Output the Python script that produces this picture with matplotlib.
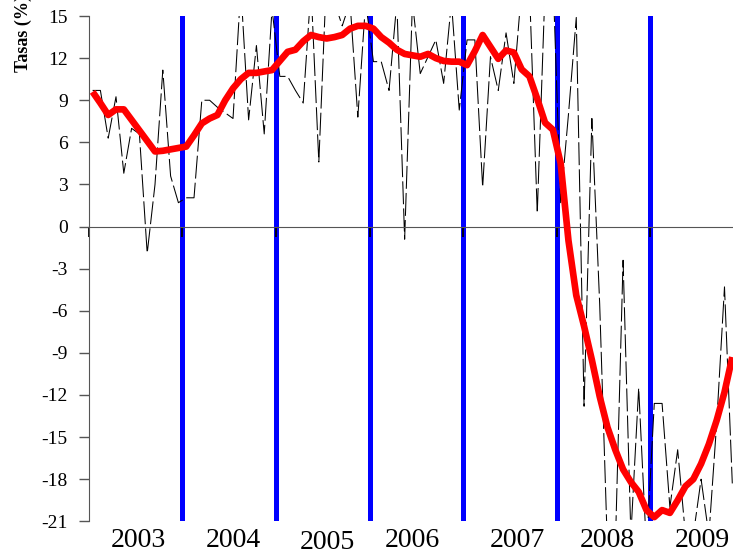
import numpy as np
import matplotlib
matplotlib.use("Agg")
import matplotlib.pyplot as plt
import matplotlib.transforms as mtransforms

plt.rcParams["font.family"] = ["Liberation Serif", "DejaVu Serif"]
plt.rcParams["axes.unicode_minus"] = False

# ==========================================================
# Data (monthly, starting January 2003)
# ==========================================================

anios = ["2003", "2004", "2005", "2006", "2007", "2008", "2009"]

# monthly year-on-year rate
tasa = [
    9.7, 9.7, 6.3, 9.25, 3.8, 7.0, 6.6, -1.9, 3.0, 11.15, 3.6, 1.7,
    2.05, 2.05, 9.0, 9.0, 8.5, 8.1, 7.7, 17.0, 7.6, 12.9, 6.6, 15.5,
    10.7, 10.7, 9.7, 8.8, 17.0, 4.6, 18.0, 16.0, 14.3, 16.0, 7.8, 16.0,
    11.75, 11.75, 9.7, 16.0, -0.9, 16.0, 10.9, 12.1, 13.3, 10.2, 16.0, 8.3,
    13.3, 13.3, 2.8, 12.1, 9.7, 13.8, 10.2, 17.0, 17.0, 0.95, 17.0, 18.0,
    1.7, 8.0, 14.9, -12.8, 7.7, -5.5, -23.0, -23.0, -2.4, -22.0, -11.5, -23.0,
    -12.6, -12.6, -20.0, -15.9, -22.0, -22.0, -18.0, -22.0, -14.0, -4.3, -18.3,
]

# smoothed trend
tendencia = [
    9.6, 8.8, 7.95, 8.35, 8.35, 7.6, 6.85, 6.1, 5.35, 5.4, 5.5, 5.6,
    5.7, 6.5, 7.35, 7.7, 7.95, 9.0, 9.85, 10.5, 10.95, 10.95, 11.05, 11.15,
    11.8, 12.45, 12.6, 13.2, 13.65, 13.5, 13.4, 13.5, 13.65, 14.1, 14.3, 14.3,
    14.1, 13.5, 13.1, 12.6, 12.3, 12.2, 12.1, 12.3, 12.0, 11.8, 11.75, 11.75,
    11.5, 12.5, 13.65, 12.8, 11.95, 12.55, 12.4, 11.2, 10.7, 9.1, 7.4, 6.9,
    4.5, -1.0, -4.9, -7.1, -9.5, -12.1, -14.3, -15.9, -17.3, -18.2, -18.9, -20.2,
    -20.7, -20.2, -20.4, -19.5, -18.5, -18.0, -16.9, -15.5, -13.8, -11.8, -9.3,
]

meses = np.arange(len(tasa))
t = 2003 + (meses + 0.5) / 12

# year boundaries marked in blue
cortes = [2004, 2005, 2006, 2007, 2008, 2009]

# ==========================================================
# Figure
# ==========================================================

fig = plt.figure(figsize=(7.33, 5.53), dpi=100)

ax = fig.add_axes([0.121, 0.0573, 1.015 - 0.121, 0.9137])

for c in cortes:
    ax.axvline(c, color="#0000ff", linewidth=3.6, zorder=1)

ax.plot(
    t,
    tasa,
    color="black",
    linewidth=0.75,
    linestyle=(0, (22, 4)),
    zorder=2,
)

ax.plot(
    t,
    tendencia,
    color="#ff0000",
    linewidth=4.8,
    solid_joinstyle="round",
    solid_capstyle="butt",
    zorder=3,
)

ax.set_xlim(2003, 2010)
ax.set_ylim(-21, 15)

ax.set_yticks(np.arange(-21, 16, 3))
ax.set_xticks([2003] + cortes)
ax.set_xticklabels([])

for s in ["top", "right"]:
    ax.spines[s].set_visible(False)

ax.spines["left"].set_color("#555555")
ax.spines["bottom"].set_position(("data", 0))
ax.spines["bottom"].set_color("#555555")

ax.tick_params(axis="y", direction="out", length=7, width=1,
               color="#555555", labelsize=14, pad=8)
ax.tick_params(axis="x", direction="out", length=7, width=1.3,
               color="black")

# year labels under the plot
pos_x = [2003.53, 2004.54, 2005.55, 2006.46, 2007.58, 2008.54, 2009.56]
pos_y = [0.011, 0.011, 0.007, 0.011, 0.011, 0.011, 0.011]

trans = mtransforms.blended_transform_factory(ax.transData, fig.transFigure)

for a, x, y in zip(anios, pos_x, pos_y):
    ax.text(x, y, a, transform=trans, ha="center", va="baseline",
            fontsize=20, clip_on=False)

fig.text(
    0.0314,
    0.870,
    "Tasas (%)",
    rotation=90,
    ha="center",
    va="bottom",
    fontsize=13,
    fontweight="bold",
)

fig.savefig("out.png", dpi=100)
